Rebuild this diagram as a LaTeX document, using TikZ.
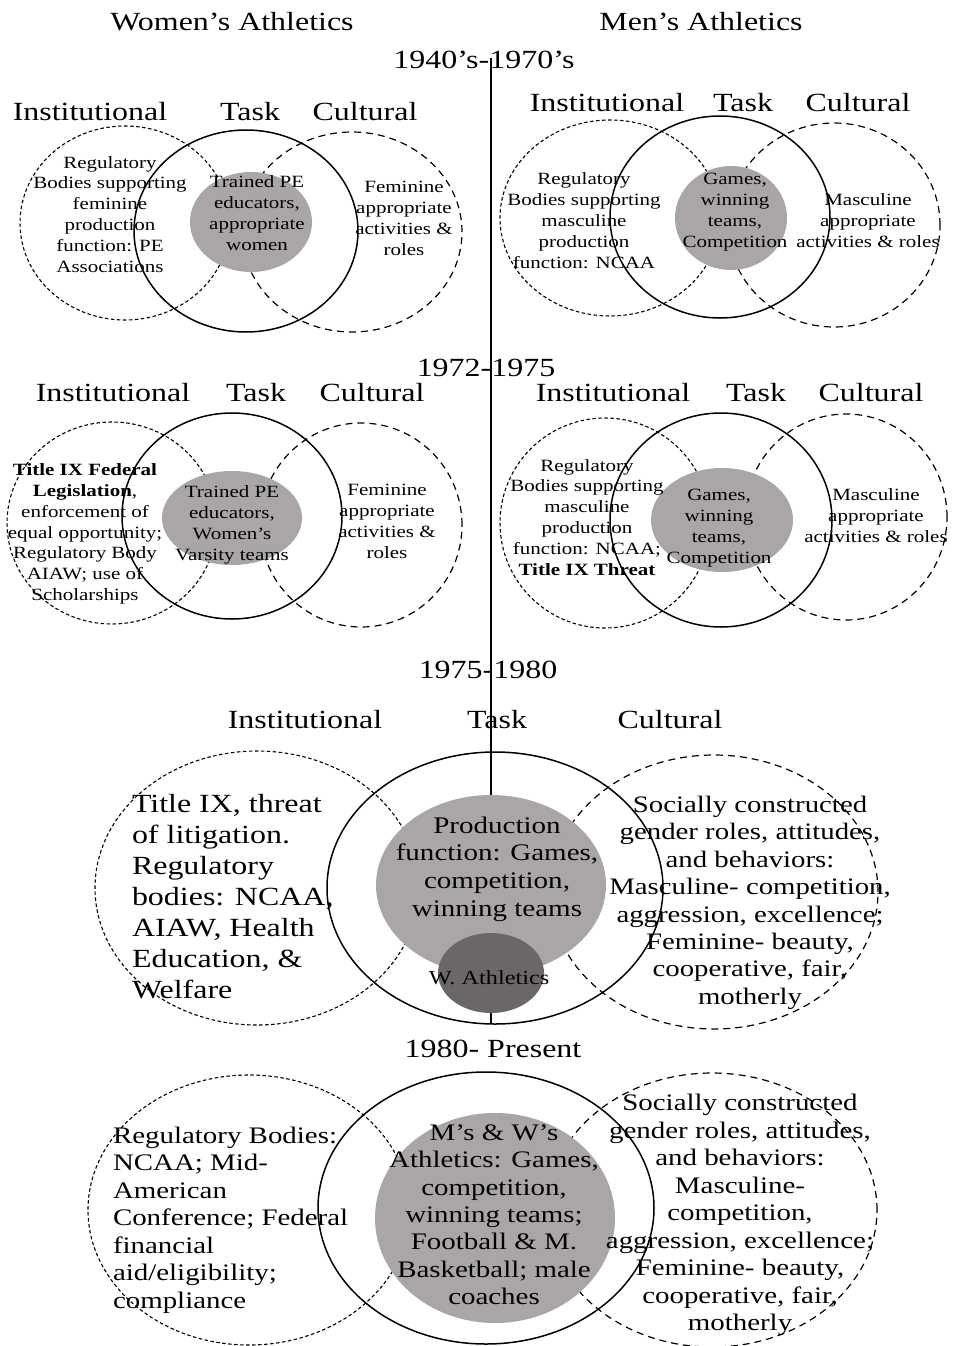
\documentclass[tikz,border=0pt]{standalone}
\usepackage{fontspec}
\setmainfont{Liberation Serif}
\usetikzlibrary{shapes.geometric}
\definecolor{gfill}{RGB}{170,166,166}
\definecolor{dfill}{RGB}{108,103,103}
\newcommand\myxs{1.22}
\newcommand\ctxt[3]{\scalebox{\myxs}[1]{\fontsize{#1}{#2}\selectfont\begin{tabular}{@{}c@{}}#3\end{tabular}}}
\newcommand\ltxt[3]{\scalebox{\myxs}[1]{\fontsize{#1}{#2}\selectfont\begin{tabular}{@{}l@{}}#3\end{tabular}}}
\newcommand\htxt[1]{\scalebox{\myxs}[1]{\fontsize{26.2}{30}\selectfont #1}}
\begin{document}
\begin{tikzpicture}[x=1pt,y=-1pt,
  txt/.style={inner sep=0pt, outer sep=0pt},
  inst/.style={line width=1.1pt, dash pattern=on 3.5pt off 2.5pt},
  cult/.style={line width=1.2pt, dash pattern=on 7pt off 5pt},
  task/.style={line width=1.5pt},
  core/.style={fill=gfill},
  spine/.style={line width=1.4pt}]
\useasboundingbox (0,0) rectangle (953,1346);
\fill[white] (0,0) rectangle (953,1346);

% ---------- circles ----------
% section 1 women
\draw[inst] (125,223) ellipse [x radius=105pt, y radius=97pt];
\draw[task] (246,231) ellipse [x radius=112pt, y radius=101pt];
\draw[cult] (352,232) ellipse [x radius=110pt, y radius=100pt];
% section 1 men
\draw[inst] (610,218) ellipse [x radius=110pt, y radius=98pt];
\draw[task] (720,217) ellipse [x radius=110pt, y radius=101pt];
\draw[cult] (834,225) ellipse [x radius=106pt, y radius=102pt];
% section 2 women
\draw[inst] (112,523) ellipse [x radius=105pt, y radius=101pt];
\draw[task] (232,516) ellipse [x radius=110pt, y radius=103pt];
\draw[cult] (361,525) ellipse [x radius=101pt, y radius=102pt];
% section 2 men
\draw[inst] (605,523) ellipse [x radius=105pt, y radius=105pt];
\draw[task] (721,520) ellipse [x radius=111pt, y radius=107pt];
\draw[cult] (846,517) ellipse [x radius=101pt, y radius=103pt];
% section 3
\draw[inst] (257,888) ellipse [x radius=162pt, y radius=137pt];
\draw[task] (495,888) ellipse [x radius=168pt, y radius=136pt];
\draw[cult] (714,892) ellipse [x radius=164pt, y radius=137pt];
% section 4
\draw[inst] (249,1210) ellipse [x radius=161pt, y radius=135pt];
\draw[task] (486,1208) ellipse [x radius=168pt, y radius=136pt];
\draw[cult] (712,1210) ellipse [x radius=165pt, y radius=137pt];

% ---------- grey cores ----------
\fill[core] (251,222) ellipse [x radius=61pt, y radius=50pt];
\fill[core] (731,218) ellipse [x radius=56pt, y radius=52pt];
\fill[core] (232,518) ellipse [x radius=70pt, y radius=47pt];
\fill[core] (722,520) ellipse [x radius=71pt, y radius=52pt];
\node[ellipse, fill=gfill, inner sep=0pt, minimum width=230pt, minimum height=180pt] (prod) at (491,885) {};
\node[ellipse, fill=dfill, inner sep=0pt, minimum width=106pt, minimum height=80pt] (wath) at (491,973) {};
\fill[core] (495,1218) ellipse [x radius=120pt, y radius=105pt];

% ---------- time line ----------
\coordinate (ltop) at (491,58);
\coordinate (lbot) at (491,1024);
\draw[spine] (ltop) -- (prod.north);
\draw[spine] (wath.south) -- (lbot);

% ---------- headers ----------
\node[txt] (hw) at (232,22) {\htxt{Women’s Athletics}};
\node[txt] (hm) at (701,22) {\htxt{Men’s Athletics}};
\node[txt] (y1) at (484,60) {\htxt{1940’s-1970’s}};
\node[txt] (y2) at (486,368) {\htxt{1972-1975}};
\node[txt] (y3) at (488,670) {\htxt{1975-1980}};
\node[txt] (y4) at (493,1049) {\htxt{1980- Present}};

% ---------- section 1 women ----------
\node[txt] (w1i) at (90,112) {\htxt{Institutional}};
\node[txt] (w1t) at (250,112) {\htxt{Task}};
\node[txt] (w1c) at (365,112) {\htxt{Cultural}};
\node[txt] (w1a) at (110,216) {\ctxt{17.2}{20.8}{Regulatory\\Bodies supporting\\feminine\\production\\function: PE\\Associations}};
\node[txt] (w1b) at (257,215) {\ctxt{17.2}{21}{Trained PE\\educators,\\appropriate\\women}};
\node[txt] (w1d) at (404,220) {\ctxt{17.2}{21}{Feminine\\appropriate\\activities \&\\roles}};

% ---------- section 1 men ----------
\node[txt] (m1i) at (607,103) {\htxt{Institutional}};
\node[txt] (m1t) at (743,103) {\htxt{Task}};
\node[txt] (m1c) at (858,103) {\htxt{Cultural}};
\node[txt] (m1a) at (584,222) {\ctxt{17.2}{21}{Regulatory\\Bodies supporting\\masculine\\production\\function: NCAA}};
\node[txt] (m1b) at (735,212) {\ctxt{17.2}{21}{Games,\\winning\\teams,\\Competition}};
\node[txt] (m1d) at (868,222) {\ctxt{17.2}{21}{Masculine\\appropriate\\activities \& roles}};

% ---------- section 2 women ----------
\node[txt] (w2i) at (113,393) {\htxt{Institutional}};
\node[txt] (w2t) at (256,393) {\htxt{Task}};
\node[txt] (w2c) at (372,393) {\htxt{Cultural}};
\node[txt] (w2a) at (85,534) {\ctxt{17.2}{20.8}{\textbf{Title IX Federal}\\\textbf{Legislation},\\enforcement of\\equal opportunity;\\Regulatory Body\\AIAW; use of\\Scholarships}};
\node[txt] (w2b) at (232,525) {\ctxt{17.2}{21}{Trained PE\\educators,\\Women’s\\Varsity teams}};
\node[txt] (w2d) at (387,523) {\ctxt{17.2}{21}{Feminine\\appropriate\\activities \&\\roles}};

% ---------- section 2 men ----------
\node[txt] (m2i) at (613,393) {\htxt{Institutional}};
\node[txt] (m2t) at (756,393) {\htxt{Task}};
\node[txt] (m2c) at (871,393) {\htxt{Cultural}};
\node[txt] (m2a) at (587,519) {\ctxt{17.2}{20.8}{Regulatory\\Bodies supporting\\masculine\\production\\function: NCAA;\\\textbf{Title IX Threat}}};
\node[txt] (m2b) at (719,528) {\ctxt{17.2}{21}{Games,\\winning\\teams,\\Competition}};
\node[txt] (m2d) at (876,517) {\ctxt{17.2}{21}{Masculine\\appropriate\\activities \& roles}};

% ---------- section 3 ----------
\node[txt] (s3i) at (305,720) {\htxt{Institutional}};
\node[txt] (s3t) at (497,720) {\htxt{Task}};
\node[txt] (s3c) at (670,720) {\htxt{Cultural}};
\node[txt, anchor=west] (s3a) at (132,899) {\ltxt{26.2}{31}{Title IX, threat\\of litigation.\\Regulatory\\bodies: NCAA,\\AIAW, Health\\Education, \&\\Welfare}};
\node[txt] (s3b) at (497,869) {\ctxt{23.8}{27.7}{Production\\function: Games,\\competition,\\winning teams}};
\node[txt] (s3w) at (489,980) {\ctxt{19.9}{22}{W. Athletics}};
\node[txt] (s3d) at (750,903) {\ctxt{23.6}{27.4}{Socially constructed\\gender roles, attitudes,\\and behaviors:\\Masculine- competition,\\aggression, excellence;\\Feminine- beauty,\\cooperative, fair,\\motherly}};

% ---------- section 4 ----------
\node[txt, anchor=west] (s4a) at (113,1220) {\ltxt{23.7}{27.5}{Regulatory Bodies:\\NCAA; Mid-\\American\\Conference; Federal\\financial\\aid/eligibility;\\compliance}};
\node[txt] (s4b) at (494,1217) {\ctxt{23.7}{27.4}{M’s \& W’s\\Athletics: Games,\\competition,\\winning teams;\\Football \& M.\\Basketball; male\\coaches}};
\node[txt] (s4d) at (740,1215) {\ctxt{23.7}{27.5}{Socially constructed\\gender roles, attitudes,\\and behaviors:\\Masculine-\\competition,\\aggression, excellence;\\Feminine- beauty,\\cooperative, fair,\\motherly}};
\end{tikzpicture}
\end{document}
